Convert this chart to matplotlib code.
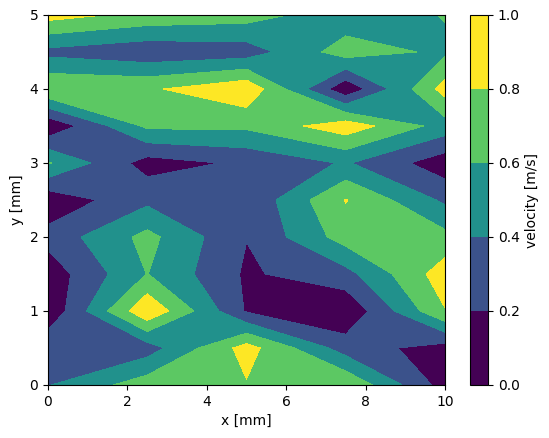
import numpy as np
import matplotlib
matplotlib.use('Agg')
import matplotlib.pyplot as plt

# grid of measurement points
x_mm = [0, 2.5, 5, 7.5, 10]
y_mm = [0, 0.5, 1, 1.5, 2, 2.5, 3, 3.5, 4, 4.5, 5]

# velocity [m/s], one row per y value (bottom to top)
v_y00 = [0.39, 0.71, 0.785, 0.78, 0.11]
v_y05 = [0.35, 0.30, 0.88, 0.30, 0.11]
v_y10 = [0.04, 0.97, 0.18, 0.03, 0.79]
v_y15 = [0.08, 0.605, 0.17, 0.33, 0.91]
v_y20 = [0.27, 0.66, 0.205, 0.69, 0.66]
v_y25 = [0.056, 0.35, 0.227, 0.81, 0.36]
v_y30 = [0.62, 0.11, 0.235, 0.42, 0.08]
v_y35 = [0.03, 0.64, 0.64, 0.92, 0.51]
v_y40 = [0.79, 0.77, 0.96, 0.04, 0.88]
v_y45 = [0.34, 0.25, 0.29, 0.70, 0.56]
v_y50 = [0.88, 0.74, 0.69, 0.47, 0.61]

niveles = [0.0, 0.2, 0.4, 0.6, 0.8, 1.0]


def graficar_velocidad(nombre: str) -> None:
    z = np.array([v_y00, v_y05, v_y10, v_y15, v_y20, v_y25,
                  v_y30, v_y35, v_y40, v_y45, v_y50])
    X, Y = np.meshgrid(x_mm, y_mm)

    fig = plt.figure(figsize=(5.49, 4.38), dpi=100)
    ax = fig.add_axes([48/549, 53/438, 397/549, 370/438])
    cax = fig.add_axes([470/549, 53/438, 18/549, 370/438])

    # colores de las bandas: extremos del viridis en la primera y ultima
    cs = ax.contourf(X, Y, z, levels=niveles, cmap='viridis', vmin=0.1, vmax=0.9)
    ax.set_xlabel('x [mm]')
    ax.set_ylabel('y [mm]')
    ax.set_xticks([0, 2, 4, 6, 8, 10])
    ax.set_yticks([0, 1, 2, 3, 4, 5])

    cb = fig.colorbar(cs, cax=cax)
    cb.set_label('velocity [m/s]')

    fig.savefig(nombre, dpi=100)


graficar_velocidad('out.png')
